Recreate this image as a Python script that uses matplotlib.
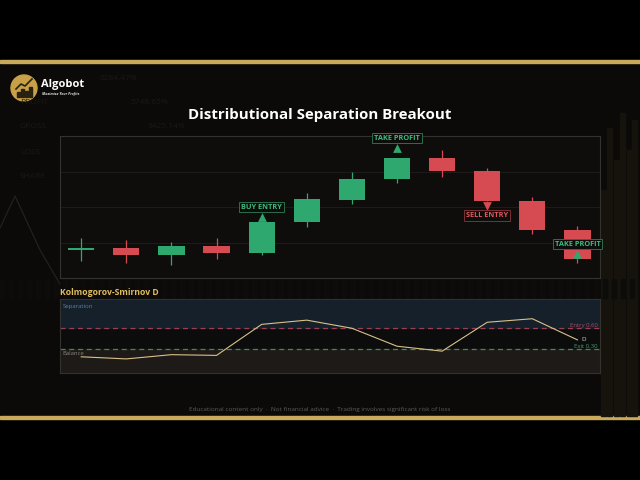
import matplotlib
matplotlib.use("Agg")
import matplotlib.pyplot as plt
from matplotlib.patches import Circle, Rectangle

plt.rcParams['font.family'] = ['Open Sans', 'DejaVu Sans']

# candle data (arbitrary price units)
opens = [51, 52, 45, 54, 47, 78, 100, 121, 142, 129, 99, 70]
closes = [51, 45, 54, 47, 78, 101, 121, 142, 129, 99, 70, 41]
highs = [62, 60, 58, 62, 78, 107, 128, 142, 150, 132, 103, 74]
lows = [39, 37, 35, 41, 45, 73, 96, 117, 123, 99, 66, 37]

# KS statistic per bar
ks_d = [0.19, 0.16, 0.22, 0.21, 0.65, 0.71, 0.595, 0.34, 0.27, 0.68, 0.73, 0.43]
entry_level = 0.60
exit_level = 0.30

# signals: bar index, label, direction, marker level
sig_idx = [4, 7, 9, 11]
sig_text = ["BUY ENTRY", "TAKE PROFIT", "SELL ENTRY", "TAKE PROFIT"]
sig_dir = ["up", "up", "down", "up"]
sig_level = [83, 152, 94, 46]

W, H = 640, 480
GREEN = "#2ea86e"
RED = "#d64b52"
GOLD = "#c9a95c"


def px_rect(x0, y0, x1, y1):
    return [x0 / W, 1 - y1 / H, (x1 - x0) / W, (y1 - y0) / H]


fig = plt.figure(figsize=(6.4, 4.8), dpi=100, facecolor="black")

# background layer in pixel coords
bg = fig.add_axes([0, 0, 1, 1], zorder=-5)
bg.set_xlim(0, W)
bg.set_ylim(H, 0)
bg.axis("off")
bg.add_patch(Rectangle((0, 62), W, 354, color="#0b0a09"))
bg.add_patch(Rectangle((0, 60), W, 2.5, color=GOLD))
bg.add_patch(Rectangle((0, 416), W, 3, color=GOLD))

# faint decorations
faint = "#1a1918"
for (x, y, s) in [(100, 78, "0284.47%"), (130, 102, "5748.65%"), (148, 127, "3425.14%"),
                  (20, 102, "PROFIT"), (20, 127, "GROSS"), (20, 152, "LOSS"), (20, 176, "SHARE")]:
    bg.text(x, y, s, color=faint, fontsize=6, va="center")
bg.plot([0, 15, 40, 60], [228, 196, 250, 284], color="#222120", lw=0.9)
for x0, top in [(601, 190), (607, 128), (614, 160), (620, 113), (627, 150), (632, 120)]:
    bg.add_patch(Rectangle((x0, top), 5, 416 - top, color="#15130c"))
for x0 in range(0, W, 9):
    bg.add_patch(Rectangle((x0, 279), 4, 19, color="#0d0c0b"))

# logo
bg.add_patch(Circle((24, 88), 13, color="#c7a048"))
for bx, bh in [(17, 5), (21, 8), (25, 6), (29, 10)]:
    bg.add_patch(Rectangle((bx, 97 - bh), 2.5, bh, color="#2a2210"))
bg.plot([16, 21, 25, 32], [89, 84, 86, 79], color="#2a2210", lw=1.2)
bg.text(41, 84, "Algobot", color="white", fontsize=8, fontweight="bold", va="center")
bg.text(42, 94, "Maximize Your Profits", color="#dddddd", fontsize=2.6,
        fontweight="bold", style="italic", va="center")

# title and footer
bg.text(320, 115, "Distributional Separation Breakout", color="white", fontsize=10.8,
        fontweight="bold", ha="center", va="center")
bg.text(320, 409, "Educational content only  \u00b7  Not financial advice  \u00b7  Trading involves significant risk of loss",
        color="#5c5b58", fontsize=4.55, ha="center", va="center")
bg.text(60, 292.5, "Kolmogorov-Smirnov D", color="#e2bd5e", fontsize=6.2,
        fontweight="bold", va="center")

# main candle panel
ax = fig.add_axes(px_rect(60, 136, 600, 278))
ax.set_facecolor("#0e0d0c")
xs = list(range(len(opens)))
ax.set_xlim(-0.47, len(opens) - 0.5)
ax.set_ylim(22, 164)
for v in [57.5, 93, 128.5]:
    ax.axhline(v, color="#1f1e1c", lw=0.6, zorder=0)
for i in xs:
    o, c = opens[i], closes[i]
    col = GREEN if c >= o else RED
    ax.vlines(i, lows[i], highs[i], color=col, lw=0.9, zorder=2)
    body = max(abs(c - o), 1.4)
    ax.bar(i, body, bottom=min(o, c) - (body - abs(c - o)) / 2, width=0.58,
           color=col, zorder=3)

for i, t, d, lvl in zip(sig_idx, sig_text, sig_dir, sig_level):
    col = GREEN if d == "up" else RED
    tcol = "#3dbb7e" if d == "up" else "#e0555c"
    ecol = "#2a6e4b" if d == "up" else "#7a3236"
    ax.scatter(i, lvl, marker="^" if d == "up" else "v", s=40, color=col,
               zorder=5, linewidths=0)
    ty = lvl + 10 if d == "up" else lvl - 9.5
    ax.text(i, ty, t, color=tcol, fontsize=5.3, fontweight="bold", ha="center",
            va="center", zorder=6, clip_on=False,
            bbox=dict(boxstyle="square,pad=0.25", fc="#0d0d0c", ec=ecol, lw=0.7))

for s in ax.spines.values():
    s.set_color("#34322e")
    s.set_linewidth(0.8)
ax.set_xticks([])
ax.set_yticks([])

# KS panel
ks = fig.add_axes(px_rect(60, 299, 600, 373))
ks.set_xlim(-0.47, len(opens) - 0.5)
ks.set_ylim(-0.04, 1.01)
ks.set_facecolor("#0c0c0c")
ks.axhspan(entry_level, 1.1, color="#15202b", zorder=0)
ks.axhspan(-0.1, exit_level, color="#1d1a17", zorder=0)
ks.axhline(entry_level, color="#9c3f50", lw=0.9, ls=(0, (4, 3)), zorder=1)
ks.axhline(exit_level, color="#3c8a62", lw=0.9, ls=(0, (4, 3)), zorder=1)
ks.plot(xs, ks_d, color="#d9c188", lw=0.8, zorder=3)
ks.text(0.005, 0.9, "Separation", transform=ks.transAxes, color="#5a7ea6",
        fontsize=4.3, va="center")
ks.text(0.005, 0.26, "Balance", transform=ks.transAxes, color="#8a8680",
        fontsize=4.3, va="center")
ks.text(0.996, entry_level + 0.005, "Entry 0.60", transform=ks.get_yaxis_transform(),
        color="#a84a5c", fontsize=4.3, ha="right", va="bottom")
ks.text(0.996, exit_level + 0.005, "Exit 0.30", transform=ks.get_yaxis_transform(),
        color="#3f9c6c", fontsize=4.3, ha="right", va="bottom")
ks.text(xs[-1] + 0.08, ks_d[-1], "D", color="#d8d4cc", fontsize=4.5, va="center")
for s in ks.spines.values():
    s.set_color("#34322e")
    s.set_linewidth(0.8)
ks.set_xticks([])
ks.set_yticks([])

fig.savefig("out.png", dpi=100, facecolor=fig.get_facecolor())
